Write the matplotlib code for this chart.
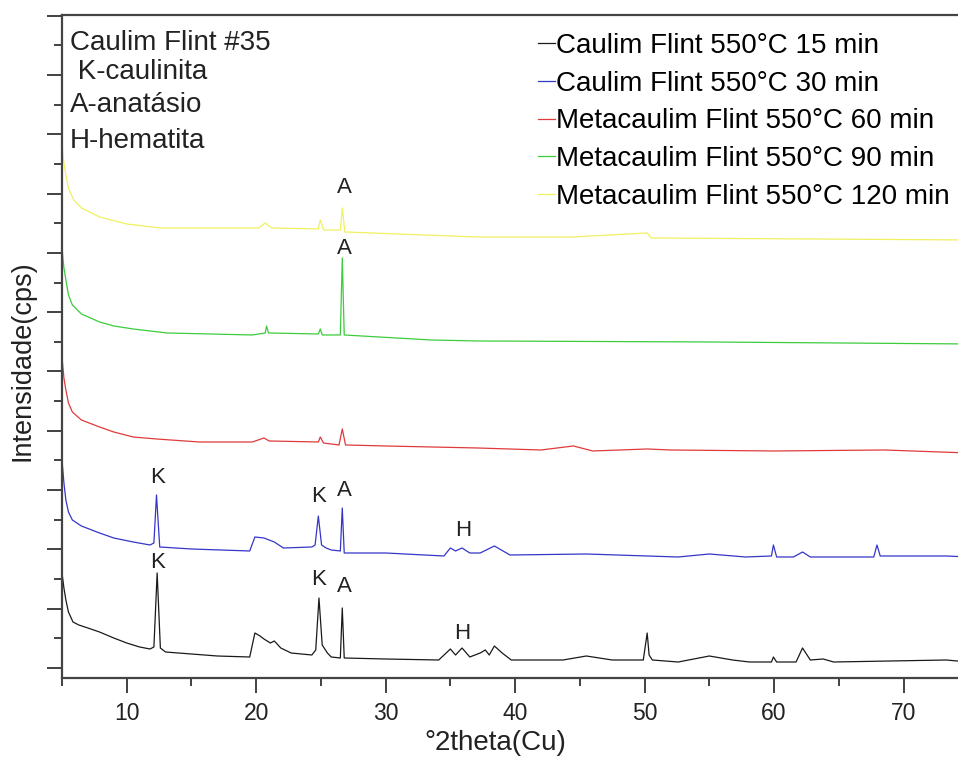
import matplotlib.pyplot as plt
from matplotlib.ticker import MultipleLocator

plt.rcParams['font.family'] = ['Liberation Sans', 'DejaVu Sans']

# 2theta / intensity pairs (offset traces, arbitrary cps)
x_15 = [5.0, 5.15, 5.3, 5.5, 5.85, 6.3, 7.0, 7.9, 9.0, 10.0, 10.5, 11.0, 11.8, 12.1, 12.35,
        12.6, 13.0, 15.0, 17.0, 19.5, 19.9, 20.3, 20.6, 21.1, 21.4, 21.9, 22.7, 24.3, 24.6,
        24.85, 25.1, 25.5, 25.8, 26.5, 26.65, 26.8, 30.0, 34.1, 35.0, 35.4, 35.9, 36.5,
        37.3, 37.7, 38.0, 38.4, 39.0, 39.7, 43.7, 45.5, 47.5, 49.9, 50.2, 50.35, 50.6, 52.6,
        55.0, 56.8, 58.1, 59.8, 59.95, 60.2, 61.7, 62.2, 62.8, 63.8, 64.6, 73.3, 75.0]
y_15 = [950, 800, 680, 560, 460, 430, 400, 360, 300, 250, 230, 210, 190, 210, 950,
        200, 160, 140, 120, 110, 350, 320, 290, 250, 270, 200, 150, 130, 180,
        700, 230, 150, 110, 100, 600, 100, 90, 80, 190, 130, 200, 110,
        150, 180, 130, 220, 150, 80, 80, 120, 80, 80, 350, 130, 80, 60,
        120, 80, 60, 60, 110, 60, 60, 200, 80, 90, 60, 80, 60]

x_30 = [5.0, 5.15, 5.3, 5.5, 5.8, 6.5, 7.9, 9.0, 10.5, 11.8, 12.1, 12.3, 12.55, 15.0, 19.5,
        19.9, 20.6, 21.4, 22.1, 24.3, 24.55, 24.8, 25.05, 25.4, 25.8, 26.5, 26.65, 26.8,
        30.0, 34.5, 35.0, 35.4, 35.9, 36.5, 37.3, 38.4, 39.6, 45.5, 50.2, 52.6, 55.0, 57.8,
        59.8, 59.95, 60.2, 61.5, 62.2, 62.8, 67.7, 67.95, 68.2, 73.3, 75.0]
y_30 = [2080, 1850, 1680, 1560, 1480, 1420, 1350, 1300, 1260, 1230, 1250, 1730, 1210, 1190, 1170,
        1310, 1300, 1260, 1200, 1210, 1230, 1520, 1230, 1200, 1180, 1170, 1600, 1150,
        1150, 1120, 1200, 1170, 1200, 1150, 1150, 1220, 1130, 1140, 1120, 1110, 1140, 1110,
        1120, 1230, 1110, 1110, 1160, 1110, 1110, 1230, 1120, 1120, 1110]

x_60 = [5.0, 5.15, 5.3, 5.5, 5.8, 6.5, 7.9, 9.0, 10.5, 12.3, 15.6, 19.7, 20.6, 21.0, 24.8,
        24.95, 25.2, 26.4, 26.65, 26.9, 30.0, 37.1, 42.0, 44.5, 46.0, 50.2, 52.0, 60.0,
        68.5, 75.0]
y_60 = [3110, 2900, 2780, 2650, 2560, 2480, 2410, 2360, 2310, 2290, 2260, 2260, 2300, 2270, 2260,
        2310, 2250, 2230, 2390, 2230, 2220, 2200, 2180, 2220, 2170, 2190, 2180, 2170,
        2180, 2150]

x_90 = [5.0, 5.15, 5.3, 5.5, 5.8, 6.5, 7.9, 9.0, 10.5, 13.1, 19.7, 20.7, 20.8, 20.95, 24.8,
        24.95, 25.1, 26.5, 26.65, 26.8, 33.5, 37.1, 55.0, 75.0]
y_90 = [4200, 4000, 3880, 3730, 3630, 3540, 3460, 3420, 3390, 3350, 3330, 3350, 3420, 3350, 3340,
        3390, 3330, 3330, 4100, 3330, 3280, 3270, 3260, 3240]

x_120 = [5.0, 5.15, 5.3, 5.5, 5.9, 6.5, 7.9, 10.0, 12.6, 20.2, 20.7, 21.2, 24.8, 24.95, 25.2,
         26.5, 26.65, 26.85, 37.1, 44.5, 50.2, 50.5, 75.0]
y_120 = [5230, 5050, 4930, 4800, 4680, 4600, 4510, 4440, 4400, 4400, 4450, 4400, 4390, 4480, 4380,
         4380, 4600, 4360, 4310, 4310, 4350, 4300, 4280]

series = [
    (x_15, y_15, 'Caulim Flint 550°C 15 min', '#1a1a1a'),
    (x_30, y_30, 'Caulim Flint 550°C 30 min', '#3535c8'),
    (x_60, y_60, 'Metacaulim Flint 550°C 60 min', '#e03a3a'),
    (x_90, y_90, 'Metacaulim Flint 550°C 90 min', '#3ccc3c'),
    (x_120, y_120, 'Metacaulim Flint 550°C 120 min', '#f0f060'),
]

# peak labels: (letter, 2theta, height)
peak_labels = [
    ('A', 26.8, 4800), ('A', 26.8, 4190),
    ('K', 12.4, 1900), ('K', 24.8, 1710), ('A', 26.8, 1770), ('H', 36.0, 1370),
    ('K', 12.4, 1050), ('K', 24.8, 880), ('A', 26.8, 810), ('H', 35.9, 340),
]

info_lines = ['Caulim Flint #35', ' K-caulinita', 'A-anatásio', 'H-hematita']

fig = plt.figure(figsize=(9.58, 7.63), dpi=100)
ax = fig.add_axes([0.0647, 0.1114, 0.946, 0.869])

for xs, ys, lab, col in series:
    ax.plot(xs, ys, color=col, lw=0.9, label=lab)

for letter, px, py in peak_labels:
    ax.text(px, py, letter, ha='center', va='center', fontsize=16, color='#222222')

info_y = [0.958, 0.914, 0.864, 0.810]
for t, yy in zip(info_lines, info_y):
    ax.text(0.009, yy, t, transform=ax.transAxes, ha='left', va='center',
            fontsize=20, color='#222222')

ax.set_xlim(5, 75)
ax.set_ylim(-100, 6530)
ax.xaxis.set_major_locator(MultipleLocator(10))
ax.xaxis.set_minor_locator(MultipleLocator(5))
ax.yaxis.set_major_locator(MultipleLocator(593))
ax.yaxis.set_minor_locator(MultipleLocator(296.5))
ax.tick_params(axis='both', which='major', direction='out', length=11, width=1.3,
               color='#333333', labelsize=16.5, labelcolor='#222222')
ax.tick_params(axis='both', which='minor', direction='out', length=6, width=1.3,
               color='#333333')
ax.tick_params(axis='y', which='both', labelleft=False)
ax.tick_params(axis='x', which='major', pad=6)
for s in ax.spines.values():
    s.set_linewidth(1.6)
    s.set_color('#444444')

ax.set_xlabel('°2theta(Cu)', fontsize=20, color='#222222')
ax.xaxis.set_label_coords(0.478, -0.079)
ax.set_ylabel('Intensidade(cps)', fontsize=19.5, color='#222222')
ax.yaxis.set_label_coords(-0.029, 0.478)

fig.legend(loc='upper left', bbox_to_anchor=(538 / 958, 1 - 33 / 763), frameon=False,
           fontsize=20, handlelength=0.6, handletextpad=0.05, labelspacing=0.42,
           borderpad=0, borderaxespad=0)

plt.savefig('out.png', dpi=100)
